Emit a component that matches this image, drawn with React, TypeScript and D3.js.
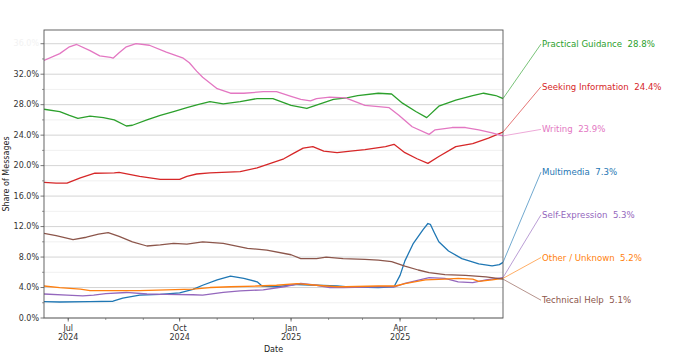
import React from "react";
import * as d3 from "d3";

type Pt = [string, number];

const practicalGuidance: Pt[] = [
  ["2024-06-11", 27.4], ["2024-06-24", 27.1], ["2024-07-02", 26.6], ["2024-07-09", 26.2],
  ["2024-07-19", 26.5], ["2024-07-30", 26.3], ["2024-08-08", 26.0], ["2024-08-18", 25.2],
  ["2024-08-23", 25.3], ["2024-09-04", 26.0], ["2024-09-15", 26.6], ["2024-09-26", 27.1],
  ["2024-10-07", 27.6], ["2024-10-16", 28.0], ["2024-10-26", 28.4], ["2024-11-06", 28.1],
  ["2024-11-20", 28.4], ["2024-12-04", 28.8], ["2024-12-17", 28.8], ["2025-01-01", 27.9],
  ["2025-01-14", 27.5], ["2025-01-25", 28.1], ["2025-02-05", 28.7], ["2025-02-16", 28.9],
  ["2025-02-25", 29.2], ["2025-03-14", 29.5], ["2025-03-25", 29.4], ["2025-04-03", 28.2],
  ["2025-04-14", 27.1], ["2025-04-23", 26.3], ["2025-05-03", 27.8], ["2025-05-17", 28.6],
  ["2025-05-31", 29.2], ["2025-06-09", 29.5], ["2025-06-19", 29.2], ["2025-06-25", 28.8],
];

const seekingInformation: Pt[] = [
  ["2024-06-11", 17.8], ["2024-06-21", 17.7], ["2024-06-30", 17.7], ["2024-07-11", 18.4],
  ["2024-07-23", 19.0], ["2024-08-08", 19.05], ["2024-08-12", 19.1], ["2024-08-29", 18.6],
  ["2024-09-15", 18.2], ["2024-10-01", 18.2], ["2024-10-07", 18.6], ["2024-10-15", 18.9],
  ["2024-10-26", 19.05], ["2024-11-20", 19.2], ["2024-12-04", 19.7], ["2024-12-15", 20.3],
  ["2024-12-26", 20.9], ["2025-01-03", 21.6], ["2025-01-11", 22.3], ["2025-01-19", 22.5],
  ["2025-01-28", 21.9], ["2025-02-08", 21.7], ["2025-02-19", 21.9], ["2025-03-03", 22.1],
  ["2025-03-20", 22.5], ["2025-03-27", 22.8], ["2025-04-05", 21.7], ["2025-04-15", 20.9],
  ["2025-04-24", 20.3], ["2025-05-03", 21.2], ["2025-05-17", 22.5], ["2025-05-31", 22.9],
  ["2025-06-13", 23.6], ["2025-06-25", 24.4],
];

const writing: Pt[] = [
  ["2024-06-11", 33.8], ["2024-06-24", 34.7], ["2024-07-02", 35.6], ["2024-07-08", 35.9],
  ["2024-07-19", 35.1], ["2024-07-27", 34.4], ["2024-08-05", 34.2], ["2024-08-07", 34.1],
  ["2024-08-12", 34.8], ["2024-08-18", 35.6], ["2024-08-26", 36.0], ["2024-09-06", 35.8],
  ["2024-09-20", 34.9], ["2024-10-04", 34.1], ["2024-10-09", 33.5], ["2024-10-15", 32.4],
  ["2024-10-20", 31.6], ["2024-11-01", 30.1], ["2024-11-12", 29.5], ["2024-11-23", 29.5],
  ["2024-12-09", 29.7], ["2024-12-20", 29.7], ["2025-01-01", 29.1], ["2025-01-09", 28.7],
  ["2025-01-17", 28.5], ["2025-01-22", 28.8], ["2025-02-02", 29.0], ["2025-02-15", 28.9],
  ["2025-03-03", 27.9], ["2025-03-23", 27.6], ["2025-03-31", 26.6], ["2025-04-11", 25.1],
  ["2025-04-25", 24.1], ["2025-04-30", 24.7], ["2025-05-14", 25.0], ["2025-05-25", 25.0],
  ["2025-06-05", 24.7], ["2025-06-16", 24.3], ["2025-06-25", 23.9],
];

const multimedia: Pt[] = [
  ["2024-06-11", 2.15], ["2024-06-24", 2.1], ["2024-07-19", 2.15], ["2024-08-07", 2.2],
  ["2024-08-15", 2.6], ["2024-08-29", 3.0], ["2024-09-15", 3.1], ["2024-10-01", 3.3],
  ["2024-10-12", 3.75], ["2024-10-20", 4.3], ["2024-11-01", 5.0], ["2024-11-12", 5.5],
  ["2024-11-23", 5.2], ["2024-12-04", 4.75], ["2024-12-08", 4.2], ["2024-12-20", 4.1],
  ["2025-01-06", 4.4], ["2025-01-22", 4.3], ["2025-02-08", 4.2], ["2025-02-15", 4.1],
  ["2025-03-14", 4.0], ["2025-03-27", 4.1], ["2025-04-01", 5.6], ["2025-04-05", 7.5],
  ["2025-04-12", 9.8], ["2025-04-20", 11.6], ["2025-04-24", 12.4], ["2025-04-26", 12.3],
  ["2025-04-29", 11.3], ["2025-05-03", 10.0], ["2025-05-11", 8.8], ["2025-05-22", 7.8],
  ["2025-06-05", 7.1], ["2025-06-16", 6.85], ["2025-06-22", 7.0], ["2025-06-25", 7.3],
];

const selfExpression: Pt[] = [
  ["2024-06-11", 3.15], ["2024-06-30", 3.0], ["2024-07-13", 2.9], ["2024-07-22", 3.0],
  ["2024-08-01", 3.2], ["2024-08-18", 3.35], ["2024-09-04", 3.15], ["2024-09-20", 3.1],
  ["2024-10-12", 3.05], ["2024-10-20", 3.0], ["2024-11-06", 3.35], ["2024-11-20", 3.55],
  ["2024-12-09", 3.7], ["2024-12-26", 4.1], ["2025-01-09", 4.55], ["2025-01-22", 4.3],
  ["2025-02-02", 4.0], ["2025-02-13", 4.0], ["2025-03-14", 4.1], ["2025-03-28", 4.1],
  ["2025-04-05", 4.55], ["2025-04-25", 5.3], ["2025-05-08", 5.2], ["2025-05-19", 4.75],
  ["2025-05-31", 4.65], ["2025-06-11", 5.0], ["2025-06-25", 5.3],
];

const otherUnknown: Pt[] = [
  ["2024-06-11", 4.2], ["2024-06-24", 4.0], ["2024-07-11", 3.8], ["2024-07-19", 3.6],
  ["2024-08-07", 3.6], ["2024-08-29", 3.6], ["2024-09-20", 3.7], ["2024-10-12", 3.8],
  ["2024-10-26", 4.0], ["2024-11-12", 4.1], ["2024-12-04", 4.2], ["2024-12-20", 4.3],
  ["2025-01-06", 4.5], ["2025-01-22", 4.3], ["2025-02-08", 4.1], ["2025-02-15", 4.1],
  ["2025-03-14", 4.2], ["2025-03-28", 4.2], ["2025-04-05", 4.5], ["2025-04-22", 5.0],
  ["2025-05-08", 5.1], ["2025-05-19", 5.2], ["2025-05-31", 5.1], ["2025-06-05", 4.8],
  ["2025-06-16", 5.0], ["2025-06-25", 5.2],
];

const technicalHelp: Pt[] = [
  ["2024-06-11", 11.1], ["2024-06-21", 10.8], ["2024-07-05", 10.3], ["2024-07-16", 10.6],
  ["2024-07-26", 11.0], ["2024-08-03", 11.2], ["2024-08-12", 10.7], ["2024-08-23", 10.0],
  ["2024-09-04", 9.45], ["2024-09-15", 9.6], ["2024-09-26", 9.8], ["2024-10-07", 9.7],
  ["2024-10-20", 10.0], ["2024-11-06", 9.8], ["2024-11-26", 9.15], ["2024-12-12", 8.9],
  ["2025-01-01", 8.3], ["2025-01-09", 7.8], ["2025-01-22", 7.8], ["2025-01-30", 8.0],
  ["2025-02-13", 7.8], ["2025-03-03", 7.7], ["2025-03-14", 7.6], ["2025-03-25", 7.4],
  ["2025-04-05", 6.8], ["2025-04-16", 6.3], ["2025-04-25", 5.95], ["2025-05-08", 5.7],
  ["2025-05-25", 5.6], ["2025-06-11", 5.4], ["2025-06-25", 5.1],
];

const seriesNames = [
  "Practical Guidance", "Seeking Information", "Writing", "Multimedia",
  "Self-Expression", "Other / Unknown", "Technical Help",
];
const seriesData = [
  practicalGuidance, seekingInformation, writing, multimedia,
  selfExpression, otherUnknown, technicalHelp,
];
const finalShares = ["28.8%", "24.4%", "23.9%", "7.3%", "5.3%", "5.2%", "5.1%"];
const seriesColors = ["#2ca02c", "#d62728", "#e377c2", "#1f77b4", "#9467bd", "#ff7f0e", "#8c564b"];

const yMajorTicks = [0, 4, 8, 12, 16, 20, 24, 28, 32, 36];
const yMinorTicks = [2, 6, 10, 14, 18, 22, 26, 30, 34];
const xMajorTicks = ["2024-07-01", "2024-10-01", "2025-01-01", "2025-04-01"];
const xTickMonth = ["Jul", "Oct", "Jan", "Apr"];
const xTickYear = ["2024", "2024", "2025", "2025"];
const xDomain = ["2024-06-11", "2025-06-25"];
const yDomain = [0, 37.8];

const W = 690, H = 356;
const L = 44, R = 503, T = 30, B = 318;
const parse = d3.utcParse("%Y-%m-%d");
const FONT = "DejaVu Sans, sans-serif";

export default function App() {
  const x = d3.scaleUtc().domain(xDomain.map((d) => parse(d) as Date)).range([L, R]);
  const y = d3.scaleLinear().domain(yDomain).range([B, T]);
  const line = d3
    .line<Pt>()
    .x((d) => x(parse(d[0]) as Date))
    .y((d) => y(d[1]));
  const minorMonths = d3.utcMonth.range(parse(xDomain[0]) as Date, parse(xDomain[1]) as Date);
  const labelX = 542;
  const labelY0 = 44;
  const labelStep = 42.7;

  return (
    <svg
      width={W}
      height={H}
      style={{ position: "absolute", left: 0, top: 0, background: "#fff" }}
      fontFamily={FONT}
    >
      <rect x={0} y={0} width={W} height={H} fill="#fff" />
      {yMinorTicks.map((t) => (
        <line key={"gm" + t} x1={L} x2={R} y1={y(t)} y2={y(t)} stroke="#ececec" strokeWidth={0.8} />
      ))}
      {yMajorTicks.map((t) => (
        <line key={"gM" + t} x1={L} x2={R} y1={y(t)} y2={y(t)} stroke="#cfcfcf" strokeWidth={0.9} />
      ))}
      <defs>
        <clipPath id="clip">
          <rect x={L} y={T} width={R - L} height={B - T} />
        </clipPath>
      </defs>
      <g clipPath="url(#clip)">
        {seriesData.map((s, i) => (
          <path key={seriesNames[i]} d={line(s) || ""} fill="none" stroke={seriesColors[i]} strokeWidth={1.3} strokeLinejoin="round" />
        ))}
      </g>
      <rect x={L} y={T} width={R - L} height={B - T} fill="none" stroke="#555" strokeWidth={0.9} />
      {yMajorTicks.map((t) => (
        <g key={"yt" + t}>
          <line x1={L - 3.5} x2={L} y1={y(t)} y2={y(t)} stroke="#555" strokeWidth={0.8} />
          <text
            x={L - 5}
            y={y(t)}
            dy="0.33em"
            textAnchor="end"
            fontSize={8}
            fill={t === 36 ? "#f2f2f2" : "#333"}
          >
            {t.toFixed(1) + "%"}
          </text>
        </g>
      ))}
      {yMinorTicks.map((t) => (
        <line key={"ymt" + t} x1={L - 2} x2={L} y1={y(t)} y2={y(t)} stroke="#555" strokeWidth={0.6} />
      ))}
      {minorMonths.map((m) => (
        <line key={"xm" + m.toISOString()} x1={x(m)} x2={x(m)} y1={B} y2={B + 2} stroke="#555" strokeWidth={0.6} />
      ))}
      {xMajorTicks.map((d, i) => {
        const xx = x(parse(d) as Date);
        return (
          <g key={"xt" + d}>
            <line x1={xx} x2={xx} y1={B} y2={B + 3.5} stroke="#555" strokeWidth={0.8} />
            <text x={xx} y={B + 13} textAnchor="middle" fontSize={8} fill="#333">
              {xTickMonth[i]}
            </text>
            <text x={xx} y={B + 22} textAnchor="middle" fontSize={8} fill="#333">
              {xTickYear[i]}
            </text>
          </g>
        );
      })}
      <text x={(L + R) / 2} y={352} textAnchor="middle" fontSize={8} fill="#222">
        Date
      </text>
      <text
        transform={`translate(8.5,${(T + B) / 2}) rotate(-90)`}
        textAnchor="middle"
        fontSize={8}
        fill="#222"
      >
        Share of Messages
      </text>
      {seriesData.map((s, i) => {
        const last = s[s.length - 1];
        const ex = x(parse(last[0]) as Date);
        const ey = y(last[1]);
        const ly = labelY0 + i * labelStep;
        return (
          <g key={"lbl" + i}>
            <line x1={ex} y1={ey} x2={labelX - 1} y2={ly} stroke={seriesColors[i]} strokeWidth={0.8} strokeOpacity={0.8} />
            <text x={labelX} y={ly + 3} fontSize={8.6} fill={seriesColors[i]} style={{ whiteSpace: "pre" }}>
              {seriesNames[i] + "  " + finalShares[i]}
            </text>
          </g>
        );
      })}
    </svg>
  );
}
